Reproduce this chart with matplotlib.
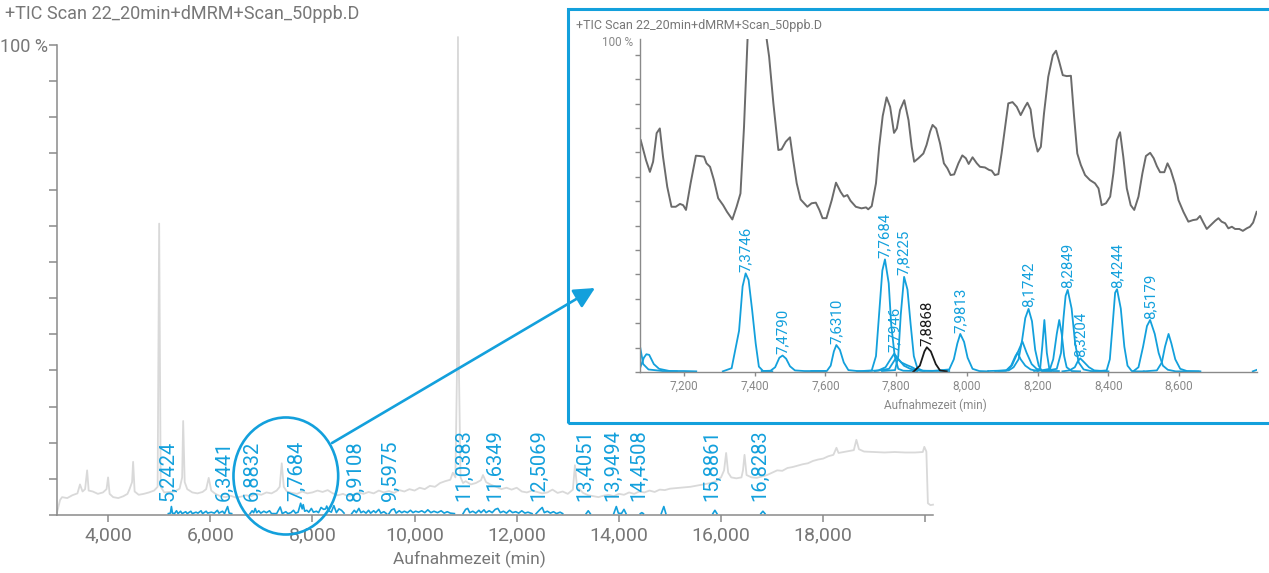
import numpy as np
import matplotlib
matplotlib.use('Agg')
import matplotlib.pyplot as plt
from matplotlib.patches import Ellipse, Rectangle, FancyArrowPatch

plt.rcParams['font.family'] = ['Roboto', 'DejaVu Sans']

BLUE = '#13a0dc'
TXT = '#777777'
AXC = '#8a8a8a'

title = '+TIC Scan 22_20min+dMRM+Scan_50ppb.D'

# full run TIC (light grey), retention time in min / relative intensity in %
tic_t = [3.00, 3.06, 3.1, 3.2, 3.3, 3.4, 3.45, 3.5, 3.55, 3.59, 3.62, 3.7, 3.8, 3.9, 3.97,
         4.0, 4.03, 4.1, 4.2, 4.3, 4.38, 4.42, 4.47, 4.49, 4.52, 4.6, 4.7, 4.8, 4.9, 4.97,
         5.0, 5.03, 5.1, 5.2, 5.3, 5.4, 5.45, 5.47, 5.5, 5.55, 5.65, 5.75, 5.85, 5.92, 5.97,
         6.02, 6.1, 6.2, 6.3, 6.4, 6.5, 6.6, 6.7, 6.8, 6.9, 7.0, 7.1, 7.2, 7.3, 7.36, 7.40,
         7.44, 7.5, 7.6, 7.7, 7.8, 7.9, 8.0, 8.1, 8.2, 8.3, 8.4, 8.5, 8.6, 8.7, 8.8, 8.9,
         9.0, 9.1, 9.2, 9.3, 9.4, 9.5, 9.6, 9.7, 9.8, 9.9, 10.0, 10.1, 10.2, 10.3, 10.4,
         10.5, 10.6, 10.7, 10.75, 10.8, 10.83, 10.85, 10.87, 10.9, 10.95, 11.0, 11.1, 11.2,
         11.3, 11.34, 11.4, 11.5, 11.6, 11.7, 11.8, 11.9, 12.0, 12.1, 12.2, 12.3, 12.4, 12.5,
         12.6, 12.7, 12.8, 12.9, 13.0, 13.1, 13.14, 13.18, 13.3, 13.4, 13.5, 13.6, 13.7,
         13.8, 13.9, 14.0, 14.1, 14.2, 14.3, 14.4, 14.5, 14.6, 14.7, 14.8, 14.9, 15.0, 15.2,
         15.4, 15.6, 15.8, 15.9, 16.0, 16.06, 16.1, 16.14, 16.2, 16.3, 16.4, 16.43, 16.46,
         16.5, 16.6, 16.7, 16.8, 16.9, 17.0, 17.1, 17.2, 17.3, 17.4, 17.5, 17.6, 17.7, 17.8,
         17.9, 18.0, 18.1, 18.2, 18.26, 18.3, 18.4, 18.5, 18.6, 18.65, 18.7, 18.8, 19.0,
         19.2, 19.4, 19.6, 19.8, 19.95, 19.98, 20.02, 20.05, 20.1, 20.15]
tic_h = [0.5, 3.2, 3.8, 3.6, 4.2, 4.6, 6.5, 5.0, 5.5, 9.5, 5.2, 5.0, 4.5, 4.8, 5.5,
         8.0, 4.5, 3.8, 3.6, 4.0, 4.5, 5.5, 7.0, 11.3, 5.0, 4.3, 4.5, 4.8, 5.2, 6.0,
         62.0, 6.0, 4.8, 4.9, 5.0, 5.6, 8.0, 20.0, 7.0, 5.5, 4.8, 4.6, 4.9, 5.5, 7.9,
         5.2, 4.5, 4.0, 3.8, 4.1, 3.7, 3.9, 4.2, 4.0, 4.5, 4.3, 4.8, 4.6, 5.2, 6.0, 11.0,
         6.0, 5.0, 4.7, 4.5, 5.0, 4.6, 4.8, 5.2, 4.9, 5.3, 4.6, 4.2, 4.5, 4.0, 4.3, 4.8,
         4.5, 4.9, 4.6, 5.2, 4.8, 5.1, 4.7, 5.3, 5.0, 5.5, 5.2, 5.8, 5.5, 6.2, 6.0,
         6.8, 7.2, 7.5, 9.0, 8.0, 30.0, 101.7, 30.0, 8.0, 6.8, 7.2, 6.5, 6.8,
         7.4, 8.5, 7.0, 6.4, 6.0, 5.5, 5.8, 5.4, 5.8, 5.0, 4.8, 5.2, 4.9, 4.6,
         4.8, 5.4, 4.7, 5.0, 4.5, 5.4, 10.6, 6.0, 4.7, 4.2, 4.0, 3.8, 4.1,
         4.3, 4.0, 4.5, 4.3, 4.8, 4.5, 5.0, 4.8, 5.2, 4.9, 5.4, 5.3, 5.6, 5.8,
         6.0, 6.4, 6.8, 7.2, 8.0, 9.5, 13.2, 9.0, 8.0, 7.8, 8.0, 9.5, 12.8,
         8.5, 8.0, 7.9, 8.2, 8.5, 9.0, 9.5, 9.4, 10.0, 10.2, 10.5, 10.8, 11.0, 11.5,
         11.8, 12.0, 12.5, 12.8, 14.3, 13.2, 13.4, 13.6, 13.8, 16.0, 14.0, 13.5, 13.4,
         13.3, 13.4, 13.3, 13.3, 13.4, 14.5, 13.5, 2.5, 2.1, 2.2]

# dMRM transitions over the full run (nan = gap between time segments)
nan = np.nan
mrm_t = [5.18, 5.22, 5.24, 5.26, 5.30, 5.34, 5.37, 5.42, 5.45, 5.52, 5.55, 5.62, 5.65, 5.72,
         5.76, 5.82, 5.85, 5.92, 5.95, 6.02, 6.08, 6.14, 6.17, 6.24, 6.28, 6.34, 6.37, 6.42, nan,
         6.78, 6.82, 6.85, 6.88, 6.91, 6.95, 6.99, 7.05, 7.1, 7.16, 7.2, 7.3, 7.37, 7.41, 7.48,
         7.52, 7.58, 7.63, 7.67, 7.72, 7.77, 7.80, 7.82, 7.85, 7.89, 7.93, 7.98, 8.02, 8.08,
         8.12, 8.17, 8.22, 8.26, 8.28, 8.32, 8.37, 8.42, 8.47, 8.52, 8.57, 8.62, nan,
         8.77, 8.82, 8.86, 8.91, 8.95, 9.0, 9.05, 9.1, 9.14, 9.2, 9.24, 9.3, 9.34, 9.4, 9.45, nan,
         9.5, 9.55, 9.6, 9.64, 9.7, 9.75, 9.8, 9.86, 9.92, 9.97, 10.02, 10.08, 10.14, 10.2,
         10.26, 10.32, 10.38, 10.45, 10.52, 10.58, 10.64, 10.7, 10.78, nan,
         10.95, 11.0, 11.04, 11.08, 11.14, 11.2, 11.26, 11.3, 11.36, 11.4, 11.46, 11.52, 11.58,
         11.63, 11.68, 11.74, 11.8, 11.86, 11.92, 11.98, 12.04, 12.1, 12.16, 12.22, 12.3, nan,
         12.38, 12.45, 12.5, 12.54, 12.6, 12.66, 12.72, 12.78, 12.85, 12.9, nan,
         13.36, 13.4, 13.44, nan, 13.9, 13.95, 13.99, 14.05, 14.1, 14.14, nan,
         14.42, 14.45, 14.48, nan, 14.83, 14.88, 14.92, nan, 15.84, 15.88, 15.92, nan,
         16.78, 16.82, 16.86]
mrm_h = [0.3, 0.4, 1.8, 0.4, 0.3, 0.9, 0.3, 0.8, 0.3, 0.7, 0.3, 0.8, 0.3, 0.6,
         0.4, 0.9, 0.3, 0.8, 0.4, 0.6, 0.4, 1.0, 0.4, 0.8, 0.3, 1.8, 0.4, 0.3, nan,
         0.3, 0.9, 0.5, 1.4, 0.5, 0.9, 0.4, 0.8, 0.5, 0.9, 0.3, 0.3, 1.7, 0.3, 0.7,
         0.3, 0.5, 1.0, 0.4, 0.6, 2.5, 1.3, 2.2, 0.8, 1.0, 0.6, 1.4, 0.6, 0.8,
         0.5, 1.6, 1.2, 1.3, 1.9, 0.9, 0.6, 2.0, 0.5, 1.3, 1.0, 0.4, nan,
         0.3, 1.0, 0.5, 1.4, 0.5, 0.8, 0.4, 1.0, 0.4, 0.9, 0.5, 1.2, 0.4, 0.7, 0.3, nan,
         0.3, 1.1, 1.3, 0.4, 0.9, 0.5, 0.8, 0.5, 1.0, 0.5, 0.8, 0.6, 0.9, 0.5,
         1.1, 0.5, 0.8, 0.5, 0.9, 0.4, 0.7, 0.4, 0.3, nan,
         0.3, 1.2, 1.4, 0.5, 0.8, 0.4, 1.0, 0.5, 1.1, 0.5, 0.9, 0.5, 1.2,
         1.4, 0.5, 0.8, 0.4, 1.0, 0.5, 0.7, 0.4, 0.9, 0.4, 0.6, 0.3, nan,
         0.3, 1.1, 1.6, 0.5, 0.8, 0.4, 0.7, 0.3, 0.6, 0.3, nan,
         0.3, 0.9, 0.3, nan, 0.3, 1.8, 0.4, 0.3, 1.2, 0.3, nan,
         0.3, 0.5, 0.3, nan, 0.3, 1.8, 0.3, nan, 0.3, 1.0, 0.3, nan,
         0.3, 0.8, 0.3]

# annotated retention times in the full run
main_rt = [5.2424, 6.3441, 6.8832, 7.7684, 8.9108, 9.5975, 11.0383, 11.6349,
           12.5069, 13.4051, 13.9494, 14.4508, 15.8861, 16.8283]

# zoomed TIC, 7.08 - 8.82 min
zoom_tic_t = [7.078, 7.093, 7.104, 7.113, 7.123, 7.132, 7.141, 7.153, 7.165, 7.177, 7.189,
              7.198, 7.206, 7.219, 7.234, 7.245, 7.257, 7.264, 7.274, 7.285, 7.297, 7.311,
              7.322, 7.337, 7.349, 7.36, 7.37, 7.38, 7.405, 7.434, 7.441, 7.453, 7.467,
              7.476, 7.488, 7.5, 7.509, 7.519, 7.53, 7.549, 7.561, 7.573, 7.583, 7.592,
              7.603, 7.618, 7.63, 7.643, 7.652, 7.662, 7.671, 7.686, 7.702, 7.715, 7.721,
              7.731, 7.743, 7.752, 7.762, 7.773, 7.783, 7.794, 7.802, 7.811, 7.823, 7.835,
              7.844, 7.851, 7.863, 7.877, 7.886, 7.896, 7.903, 7.913, 7.924, 7.935, 7.945,
              7.954, 7.964, 7.976, 7.987, 7.997, 8.005, 8.016, 8.028, 8.037, 8.051, 8.063,
              8.07, 8.079, 8.089, 8.098, 8.108, 8.117, 8.129, 8.141, 8.152, 8.164, 8.171,
              8.18, 8.19, 8.2, 8.209, 8.218, 8.23, 8.243, 8.252, 8.261, 8.271, 8.282,
              8.294, 8.303, 8.312, 8.322, 8.334, 8.348, 8.362, 8.372, 8.381, 8.393, 8.405,
              8.414, 8.424, 8.433, 8.442, 8.452, 8.463, 8.473, 8.485, 8.496, 8.506, 8.518,
              8.528, 8.537, 8.546, 8.558, 8.567, 8.576, 8.589, 8.598, 8.612, 8.626, 8.639,
              8.65, 8.659, 8.667, 8.678, 8.689, 8.702, 8.711, 8.72, 8.73, 8.739, 8.749,
              8.758, 8.77, 8.78, 8.791, 8.8, 8.809, 8.819]
zoom_tic_h = [73.1, 66.8, 63.1, 66.3, 75.3, 76.8, 67.9, 58.4, 52.1, 52.1, 53.0,
              52.6, 51.1, 59.5, 68.2, 68.1, 67.9, 65.8, 64.7, 60.5, 54.8, 52.6,
              50.5, 48.1, 52.1, 56.3, 77.3, 105.0, 140.0, 105.0, 99.4, 84.7, 70.0,
              70.2, 72.6, 74.0, 66.8, 59.5, 54.4, 52.1, 53.2, 53.4, 51.1, 48.5,
              48.5, 54.2, 59.7, 56.8, 55.3, 55.8, 54.0, 52.1, 51.6, 51.9, 51.3,
              52.3, 59.5, 71.0, 80.7, 86.6, 83.6, 75.4, 76.8, 82.6, 85.7, 79.4,
              71.0, 66.3, 67.4, 68.9, 71.6, 75.8, 77.9, 76.8, 72.1, 65.8, 64.2,
              62.1, 62.3, 65.8, 68.3, 67.4, 65.6, 67.7, 65.8, 64.7, 64.5, 63.7,
              63.5, 62.1, 62.4, 68.9, 77.3, 84.7, 85.1, 83.6, 81.0, 83.6, 84.9,
              82.8, 74.2, 69.5, 71.0, 81.6, 93.1, 99.9, 101.3, 97.8, 93.6, 93.3,
              93.4, 80.5, 68.9, 65.3, 62.1, 60.5, 59.5, 57.9, 52.6, 53.2, 55.3,
              62.6, 73.1, 75.6, 67.9, 57.9, 52.6, 51.1, 55.3, 62.6, 68.1, 69.1,
              67.4, 64.9, 63.0, 63.0, 65.8, 63.7, 59.0, 54.2, 50.5, 47.4, 47.9,
              48.1, 49.2, 47.4, 45.1, 46.3, 47.7, 48.5, 47.4, 46.9, 45.3, 45.8,
              45.1, 45.1, 44.5, 45.3, 45.8, 47.1, 50.5]

# zoomed MRM traces, (time, intensity) pairs
pk_7098a = [(7.077, 7.5), (7.085, 2.5), (7.10, 0.8), (7.14, 0.3), (7.20, 0.3), (7.235, 0.2)]
pk_7098b = [(7.077, 1.5), (7.087, 4.5), (7.094, 5.6), (7.102, 5.4), (7.115, 2.5), (7.13, 1.0),
            (7.16, 0.3), (7.18, 0.2)]
pk_73746 = [(7.31, 0.2), (7.335, 1.2), (7.356, 13), (7.366, 27), (7.3746, 31.1), (7.383, 29),
            (7.393, 19.5), (7.403, 9), (7.412, 1.7), (7.424, 0.3), (7.45, 0.2)]
pk_74790 = [(7.42, 0.3), (7.445, 0.4), (7.458, 1.5), (7.47, 4.5), (7.4790, 5.2), (7.489, 4.2),
            (7.50, 1.8), (7.514, 0.5), (7.54, 0.3), (7.60, 0.3)]
pk_76310 = [(7.56, 0.3), (7.604, 0.3), (7.615, 2), (7.624, 6.5), (7.6310, 8.5), (7.641, 7),
            (7.652, 3), (7.665, 0.6), (7.69, 0.3), (7.72, 0.2)]
pk_77684 = [(7.69, 0.2), (7.731, 0.5), (7.743, 5), (7.753, 20), (7.761, 32), (7.7684, 35.5),
            (7.779, 28), (7.786, 15), (7.796, 5), (7.806, 1), (7.82, 0.4), (7.86, 0.3)]
pk_78225 = [(7.76, 0.3), (7.797, 0.6), (7.806, 5), (7.813, 18), (7.8225, 30), (7.832, 26),
            (7.841, 15), (7.85, 5), (7.86, 1.2), (7.875, 0.4), (7.95, 0.3)]
pk_77946 = [(7.72, 0.3), (7.75, 0.5), (7.77, 1.5), (7.784, 4), (7.7946, 5.8), (7.807, 4),
            (7.822, 2), (7.84, 1), (7.87, 0.4), (7.90, 0.3)]
pk_7800 = [(7.74, 0.3), (7.78, 1.0), (7.80, 4.5), (7.815, 3), (7.83, 2.2), (7.845, 1.5),
           (7.86, 0.6), (7.88, 0.3)]
pk_78868 = [(7.848, 0.0), (7.867, 2), (7.880, 6.5), (7.8868, 7.8), (7.898, 6.5), (7.912, 2.5),
            (7.924, 0.5), (7.943, 0.2)]
pk_79813 = [(7.90, 0.3), (7.95, 0.8), (7.963, 4), (7.973, 9), (7.9813, 12), (7.992, 9.5),
            (8.002, 4.5), (8.016, 1), (8.035, 0.3), (8.06, 0.2)]
pk_81742 = [(8.06, 0.3), (8.118, 0.5), (8.132, 1.5), (8.146, 4), (8.156, 10), (8.165, 17),
            (8.1742, 19.9), (8.184, 16), (8.193, 7), (8.203, 2), (8.212, 0.3), (8.24, 0.2)]
pk_8157 = [(8.08, 0.3), (8.113, 0.5), (8.127, 2), (8.141, 5.5), (8.157, 9.6), (8.169, 6),
           (8.183, 2.5), (8.197, 1), (8.216, 0.3)]
pk_8143 = [(8.09, 0.3), (8.11, 0.4), (8.125, 2), (8.137, 5), (8.143, 6.1), (8.152, 4),
           (8.165, 2), (8.18, 0.8), (8.20, 0.3)]
pk_8219 = [(8.19, 0.3), (8.207, 1), (8.213, 8), (8.219, 16.4), (8.226, 6), (8.233, 1),
           (8.244, 0.3), (8.26, 0.3)]
pk_8261 = [(8.20, 0.3), (8.235, 1), (8.244, 4), (8.254, 12), (8.261, 16.4), (8.268, 12),
           (8.275, 5), (8.282, 1.5), (8.296, 0.3), (8.32, 0.2)]
pk_82849 = [(8.22, 0.3), (8.254, 1), (8.266, 6), (8.273, 17), (8.279, 24), (8.2849, 25.9),
            (8.296, 20), (8.306, 9), (8.316, 3), (8.33, 0.8), (8.35, 0.3), (8.38, 0.2)]
pk_83204 = [(8.27, 0.2), (8.29, 0.5), (8.305, 1.5), (8.314, 3.5), (8.3204, 4.3), (8.332, 3),
            (8.345, 1.5), (8.36, 0.5), (8.40, 0.2)]
pk_84244 = [(8.36, 0.2), (8.395, 0.5), (8.404, 4), (8.412, 15), (8.419, 25), (8.4244, 26.1),
            (8.435, 20), (8.445, 8), (8.454, 2), (8.466, 0.3), (8.48, 0.2), (8.50, 0.2)]
pk_85179 = [(8.47, 0.2), (8.485, 1.5), (8.498, 8), (8.509, 14.5), (8.5179, 16.4), (8.531, 12),
            (8.542, 6), (8.554, 2), (8.568, 0.7), (8.59, 0.2), (8.62, 0.2), (8.66, 0.2)]
pk_8570 = [(8.50, 0.2), (8.537, 0.5), (8.551, 3), (8.56, 8), (8.57, 12), (8.578, 9),
           (8.589, 4), (8.603, 1), (8.622, 0.3), (8.655, 0.2)]
pk_8820 = [(8.808, 0.2), (8.82, 0.7)]

blue_unlabelled = [pk_7098a, pk_7098b, pk_7800, pk_8157, pk_8143, pk_8219, pk_8261, pk_8570, pk_8820]
blue_labelled = [pk_73746, pk_74790, pk_76310, pk_77684, pk_78225, pk_77946, pk_79813,
                 pk_81742, pk_82849, pk_83204, pk_84244, pk_85179]
black_labelled = [pk_78868]


def rt_label(t):
    return f'{t:.4f}'.replace('.', ',')


W, H = 1269, 573


def px_box(l, t, r, b):
    return [l / W, 1 - b / H, (r - l) / W, (b - t) / H]


fig = plt.figure(figsize=(W / 100, H / 100), dpi=100)

# ---- full chromatogram ----
ax = fig.add_axes(px_box(57, 45, 933, 515))
ax.plot(tic_t, tic_h, color='#d9d9d9', lw=1.3, clip_on=False, zorder=1)
ax.plot(mrm_t, mrm_h, color=BLUE, lw=1.2, zorder=2)
for rt in main_rt:
    ax.annotate(rt_label(rt), (rt, 3.0), xytext=(-2.5, 0), textcoords='offset points',
                rotation=90, ha='center', va='bottom', color=BLUE, fontsize=14.5)
ax.set_xlim(3.0, 20.15)
ax.set_ylim(0, 100)
xt = np.arange(4, 21, 2)
ax.set_xticks(xt)
ax.set_xticklabels([f'{v:.3f}'.replace('.', ',') for v in xt[:-1]] + [''])
yt = np.linspace(0, 100, 14)
ax.set_yticks(yt)
ax.set_yticklabels([''] * 13 + ['100 %'])
ax.tick_params(axis='x', length=5, width=1.1, color=AXC, labelsize=14, labelcolor=TXT, pad=3.5)
ax.tick_params(axis='y', length=6, width=1.1, color=AXC, labelsize=13, labelcolor=TXT, pad=0.5)
for s in ['top', 'right']:
    ax.spines[s].set_visible(False)
for s in ['left', 'bottom']:
    ax.spines[s].set_color(AXC)
    ax.spines[s].set_linewidth(1.1)
ax.set_xlabel('Aufnahmezeit (min)', fontsize=12.5, color=TXT)
ax.xaxis.set_label_coords(0.471, -0.077)

ax.add_patch(Ellipse((7.48, 8.3), width=2.05, height=24.9, fill=False, ec=BLUE, lw=1.9,
                     clip_on=False, zorder=4))

fig.text(5 / W, 1 - 14 / H, title, fontsize=13, color=TXT, va='center')

# ---- zoom frame and arrow ----
fig.add_artist(Rectangle((568 / W, 1 - 423 / H), 720 / W, 414 / H, transform=fig.transFigure,
                         fill=False, ec=BLUE, lw=2.2))
fig.add_artist(FancyArrowPatch((332 / W, 1 - 443 / H), (595 / W, 1 - 288 / H),
                               transform=fig.transFigure, arrowstyle='-|>,head_length=0.9,head_width=0.45',
                               mutation_scale=14, color=BLUE, lw=1.9, shrinkA=0, shrinkB=0))

# ---- zoomed region ----
az = fig.add_axes(px_box(640, 39, 1257, 372))
az.plot(zoom_tic_t, zoom_tic_h, color='#6b6b6b', lw=1.4)
for pk in blue_unlabelled + blue_labelled:
    t, h = zip(*pk)
    az.plot(t, h, color=BLUE, lw=1.3)
for pk in black_labelled:
    t, h = zip(*pk)
    az.plot(t, h, color='#1a1a1a', lw=1.3)
for group, col in [(blue_labelled, BLUE), (black_labelled, '#1a1a1a')]:
    for pk in group:
        t, h = max(pk, key=lambda p: p[1])
        az.annotate(rt_label(t), (t, h), xytext=(0, 1.0), textcoords='offset points',
                    rotation=90, ha='center', va='bottom', color=col, fontsize=10.8)
az.set_xlim(7.076, 8.82)
az.set_ylim(0, 105)
zt = np.arange(7.2, 8.61, 0.2)
az.set_xticks(zt)
az.set_xticklabels([f'{v:.3f}'.replace('.', ',') for v in zt])
az.set_yticks(np.linspace(0, 100, 14))
az.set_yticklabels([])
az.tick_params(axis='x', length=3, width=1.0, color=AXC, labelsize=8.5, labelcolor='#888888', pad=2.5)
az.tick_params(axis='y', length=3.5, width=1.0, color=AXC)
for s in ['top', 'right']:
    az.spines[s].set_visible(False)
for s in ['left', 'bottom']:
    az.spines[s].set_color(AXC)
    az.spines[s].set_linewidth(1.0)
az.set_xlabel('Aufnahmezeit (min)', fontsize=8.5, color='#888888')
az.xaxis.set_label_coords(0.478, -0.081)
fig.text(633 / W, 1 - 42 / H, '100 %', ha='right', va='center', fontsize=8.5, color='#888888')
fig.text(576 / W, 1 - 26 / H, title, fontsize=9, color='#777777', va='center')

fig.savefig('out.png', dpi=100)
